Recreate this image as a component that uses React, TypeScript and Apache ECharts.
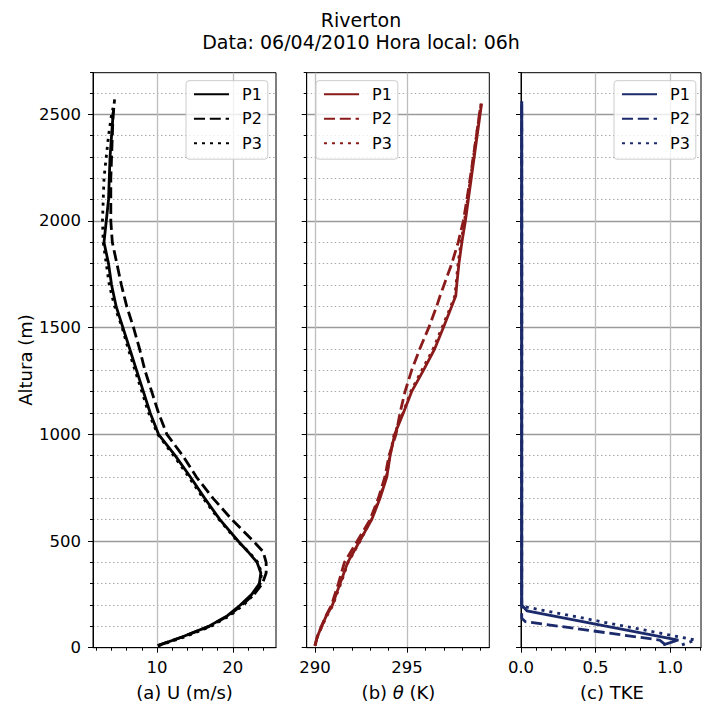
import React, { useEffect, useRef } from 'react';
import * as echarts from 'echarts';

// ---------- data ----------
const heightsBaseU = [10, 50, 100, 150, 200, 250, 300, 350, 400, 450, 500, 600, 700, 800, 900, 1000, 1100, 1200, 1300, 1400, 1500, 1600, 1700, 1800, 1900, 2000, 2100, 2200, 2300, 2400, 2500];
const heightsU1 = [...heightsBaseU, 2530];
const heightsU2 = [...heightsBaseU, 2570];
const heightsU3 = [...heightsBaseU, 2530];
const uP1 = [10.1, 13.3, 16.8, 19.3, 21.0, 22.5, 23.5, 23.7, 23.2, 22.0, 20.7, 18.3, 16.3, 14.4, 12.4, 10.2, 9.1, 8.2, 7.3, 6.4, 5.5, 4.6, 4.0, 3.6, 3.0, 3.3, 3.6, 3.7, 3.8, 4.0, 4.2, 4.3];
const uP2 = [10.1, 13.3, 16.9, 19.4, 21.2, 22.8, 23.9, 24.4, 24.4, 24.0, 22.7, 19.9, 17.4, 15.2, 13.4, 11.3, 10.2, 9.3, 8.4, 7.7, 6.9, 6.0, 5.3, 4.7, 4.1, 3.9, 3.9, 3.9, 4.0, 4.1, 4.2, 4.4];
const uP3 = [10.2, 13.6, 17.1, 19.6, 21.4, 22.8, 23.6, 23.8, 23.3, 22.1, 20.6, 18.2, 16.1, 14.2, 12.2, 10.1, 8.9, 8.0, 7.1, 6.2, 5.4, 4.4, 3.7, 3.3, 2.9, 2.8, 2.9, 3.0, 3.3, 3.6, 4.0, 4.2];

const heightsT = [10, 50, 100, 150, 200, 250, 300, 400, 500, 600, 700, 800, 900, 1000, 1100, 1200, 1300, 1400, 1500, 1600, 1650, 1700, 1800, 1900, 2000, 2100, 2200, 2300, 2400, 2500, 2550];
const thetaP1 = [290.0, 290.12, 290.36, 290.62, 290.95, 291.15, 291.36, 291.78, 292.43, 293.08, 293.53, 293.9, 294.08, 294.33, 294.8, 295.25, 295.89, 296.5, 296.97, 297.43, 297.65, 297.7, 297.82, 297.98, 298.17, 298.33, 298.49, 298.65, 298.81, 298.97, 299.05];
const thetaP2 = [290.0, 290.12, 290.35, 290.6, 290.9, 291.08, 291.27, 291.6, 292.3, 292.99, 293.44, 293.8, 294.02, 294.4, 294.62, 294.89, 295.25, 295.69, 296.18, 296.61, 296.8, 297.01, 297.43, 297.78, 298.06, 298.25, 298.43, 298.6, 298.77, 298.93, 299.02];
const thetaP3 = [290.0, 290.13, 290.38, 290.65, 290.98, 291.18, 291.4, 291.8, 292.45, 293.05, 293.5, 293.88, 294.07, 294.3, 294.78, 295.2, 295.8, 296.42, 296.9, 297.38, 297.6, 297.66, 297.77, 297.93, 298.12, 298.29, 298.45, 298.61, 298.77, 298.94, 299.03];

const heightsK1 = [13, 36, 173, 200, 2560];
const heightsK2 = [13, 36, 122, 138, 2560];
const heightsK3 = [13, 36, 190, 209, 2560];
const tkeP1 = [0.955, 1.056, 0.04, 0.005, 0.005];
const tkeP2 = [0.97, 0.93, 0.03, 0.005, 0.005];
const tkeP3 = [1.08, 1.17, 0.04, 0.005, 0.005];

const seriesNames = ['P1', 'P2', 'P3'];
const yMajorTicks = [0, 500, 1000, 1500, 2000, 2500];
const xMajorTicks = [[10, 20], [290, 295], [0, 0.5, 1.0]];
const xMinorTicks = [
  [2, 4, 6, 8, 12, 14, 16, 18, 22, 24],
  [291, 292, 293, 294, 296, 297, 298, 299],
  [0.1, 0.2, 0.3, 0.4, 0.6, 0.7, 0.8, 0.9, 1.1, 1.2],
];
const xLabels = ['(a) U (m/s)', '(b) {i|θ} (K)', '(c) TKE'];
const panelPrefix = ['U', 'θ', 'TKE'];

// ---------- layout / style ----------
const FONT = 'DejaVu Sans';
const gridBoxes = [
  { left: 93, width: 183 },
  { left: 306.7, width: 182.6 },
  { left: 521, width: 180 },
];
const GRID_TOP = 72.7;
const GRID_H = 575;
const xRanges = [[1.55, 25.7], [289.55, 299.47], [0, 1.208]];
const yMax = 2695;
const colors = ['#000000', '#8b1a1a', '#1b2a6b'];
const dashTypes: any[] = ['solid', [11, 4.8], [3, 5]];
const legendLeft = [186, 316, 614];

function pairs(xs: number[], hs: number[]) {
  return xs.map((x, i) => [x, hs[i]]);
}

const panelData = [
  [pairs(uP1, heightsU1), pairs(uP2, heightsU2), pairs(uP3, heightsU3)],
  [pairs(thetaP1, heightsT), pairs(thetaP2, heightsT), pairs(thetaP3, heightsT)],
  [pairs(tkeP1, heightsK1), pairs(tkeP2, heightsK2), pairs(tkeP3, heightsK3)],
];

export default function App() {
  const ref = useRef<HTMLDivElement>(null);
  useEffect(() => {
    if (!ref.current) return;
    const chart = echarts.init(ref.current, undefined, { renderer: 'svg' });

    const grid = gridBoxes.map((b) => ({
      left: b.left,
      top: GRID_TOP,
      width: b.width,
      height: GRID_H,
      show: true,
      borderColor: '#000',
      borderWidth: 1,
      backgroundColor: 'transparent',
    }));

    const xAxis: any[] = [];
    const yAxis: any[] = [];
    for (let g = 0; g < 3; g++) {
      xAxis.push({
        type: 'value',
        gridIndex: g,
        min: xRanges[g][0],
        max: xRanges[g][1],
        position: 'bottom',
        axisLine: { show: true, onZero: false, lineStyle: { color: '#000', width: 1 } },
        axisTick: { show: true, customValues: xMajorTicks[g], length: 5, lineStyle: { color: '#000', width: 1 } },
        axisLabel: {
          show: true,
          customValues: xMajorTicks[g],
          margin: 11,
          fontSize: 16.5,
          color: '#000',
          fontFamily: FONT,
          formatter: (v: number) => (g === 2 ? v.toFixed(1) : String(v)),
        },
        splitLine: { show: true, showMinLine: g !== 2, lineStyle: { color: '#bdbdbd', width: 1.3 } },
      });
      xAxis.push({
        type: 'value',
        gridIndex: g,
        min: xRanges[g][0],
        max: xRanges[g][1],
        position: 'bottom',
        axisLine: { show: false, onZero: false },
        axisTick: { show: true, customValues: xMinorTicks[g], length: 3, lineStyle: { color: '#000', width: 1 } },
        axisLabel: { show: false },
        splitLine: { show: false },
      });
      yAxis.push({
        type: 'value',
        gridIndex: g,
        min: 0,
        max: yMax,
        interval: 100,
        position: 'left',
        axisLine: { show: false, onZero: false },
        axisTick: { show: true, length: 3, lineStyle: { color: '#000', width: 1 } },
        axisLabel: { show: false },
        splitLine: { show: true, showMinLine: false, showMaxLine: false, lineStyle: { color: '#a8a8a8', width: 1, type: [1.5, 2.5] } },
      });
      yAxis.push({
        type: 'value',
        gridIndex: g,
        min: 0,
        max: yMax,
        position: 'left',
        axisLine: { show: true, onZero: false, lineStyle: { color: '#000', width: 1 } },
        axisTick: { show: true, customValues: yMajorTicks, length: 5, lineStyle: { color: '#000', width: 1 } },
        axisLabel: {
          show: g === 0,
          customValues: yMajorTicks,
          margin: 12,
          fontSize: 16.5,
          color: '#000',
          fontFamily: FONT,
          formatter: (v: number) => String(v),
        },
        splitLine: { show: true, showMinLine: false, lineStyle: { color: '#9a9a9a', width: 1.3 } },
      });
    }

    const series: any[] = [];
    const legend: any[] = [];
    for (let g = 0; g < 3; g++) {
      const names: string[] = [];
      for (let s = 0; s < 3; s++) {
        const name = panelPrefix[g] + ' ' + seriesNames[s];
        names.push(name);
        series.push({
          type: 'line',
          name,
          xAxisIndex: 2 * g,
          yAxisIndex: 2 * g,
          data: panelData[g][s],
          symbol: 'none',
          showSymbol: false,
          silent: true,
          z: 5,
          itemStyle: { color: colors[g] },
          lineStyle: { color: colors[g], width: 2.8, type: dashTypes[s], cap: 'butt' },
        });
      }
      legend.push({
        data: names,
        orient: 'vertical',
        left: legendLeft[g],
        top: 80.7,
        itemWidth: 35,
        itemHeight: 14,
        itemGap: 8.5,
        padding: [5.5, 6, 8, 7],
        borderColor: '#cccccc',
        borderWidth: 1,
        borderRadius: 3,
        backgroundColor: 'rgba(255,255,255,0.8)',
        selectedMode: false,
        itemStyle: { opacity: 0 },
        formatter: (n: string) => n.split(' ')[1],
        textStyle: { fontSize: 16, color: '#000', fontFamily: FONT, padding: [0, 0, 0, 8] },
      });
    }

    const xLabelCenters = [184.5, 398.5, 612];
    const graphic: any[] = [
      {
        type: 'text',
        x: 361,
        y: 19.5,
        style: { text: 'Riverton', fontSize: 19, fontFamily: FONT, fill: '#000', textAlign: 'center', textVerticalAlign: 'middle' },
      },
      {
        type: 'text',
        x: 361,
        y: 41.5,
        style: { text: 'Data: 06/04/2010 Hora local: 06h', fontSize: 19, fontFamily: FONT, fill: '#000', textAlign: 'center', textVerticalAlign: 'middle' },
      },
      {
        type: 'text',
        x: 25,
        y: 360,
        rotation: Math.PI / 2,
        style: { text: 'Altura (m)', fontSize: 18, fontFamily: FONT, fill: '#000', textAlign: 'center', textVerticalAlign: 'middle' },
      },
      ...xLabels.map((t, i) => ({
        type: 'text',
        x: xLabelCenters[i],
        y: 692,
        style: {
          text: t,
          fontSize: 18,
          fontFamily: FONT,
          fill: '#000',
          textAlign: 'center',
          textVerticalAlign: 'middle',
          rich: { i: { fontStyle: 'italic', fontSize: 18, fontFamily: FONT, fill: '#000' } },
        },
      })),
    ];

    chart.setOption({
      animation: false,
      backgroundColor: '#ffffff',
      grid,
      xAxis,
      yAxis,
      series,
      legend,
      graphic,
    });
    return () => chart.dispose();
  }, []);
  return <div ref={ref} style={{ position: 'fixed', left: 0, top: 0, width: 702, height: 701 }} />;
}
